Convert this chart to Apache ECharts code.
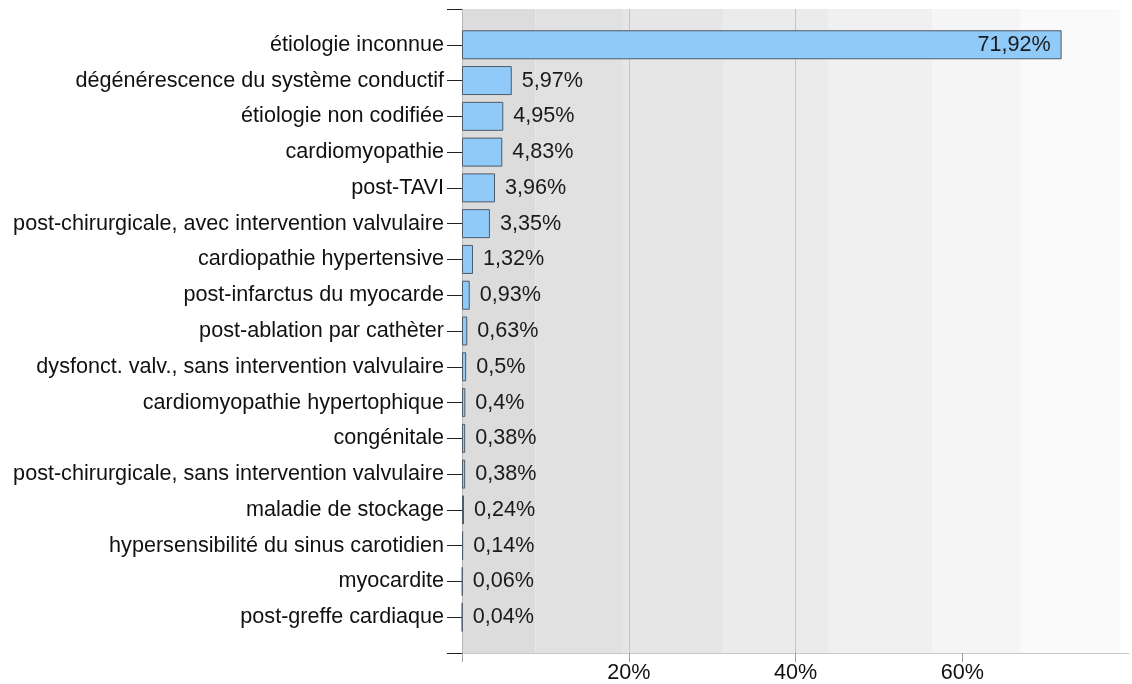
<!DOCTYPE html>
<html>
<head>
<meta charset="utf-8">
<script src="https://cdn.jsdelivr.net/npm/echarts@6/dist/echarts.min.js"></script>
<style>
  html, body { margin: 0; padding: 0; background: #ffffff; overflow: hidden; }
  #chart { width: 1132px; height: 684px; }
</style>
</head>
<body>
<div id="chart"></div>
<script>
const categories = [
  "étiologie inconnue",
  "dégénérescence du système conductif",
  "étiologie non codifiée",
  "cardiomyopathie",
  "post-TAVI",
  "post-chirurgicale, avec intervention valvulaire",
  "cardiopathie hypertensive",
  "post-infarctus du myocarde",
  "post-ablation par cathèter",
  "dysfonct. valv., sans intervention valvulaire",
  "cardiomyopathie hypertophique",
  "congénitale",
  "post-chirurgicale, sans intervention valvulaire",
  "maladie de stockage",
  "hypersensibilité du sinus carotidien",
  "myocardite",
  "post-greffe cardiaque"
];
const values = [71.92, 5.97, 4.95, 4.83, 3.96, 3.35, 1.32, 0.93, 0.63, 0.5, 0.4, 0.38, 0.38, 0.24, 0.14, 0.06, 0.04];
const xTicks = [20, 40, 60];
const xTickMarks = [0, 20, 40, 60];
const bandEdges = [0, 8.8, 19.3, 31.4, 44.0, 56.4, 67.0, 78.9];
const bandColors = ["#dcdcdc", "#e1e1e1", "#e6e6e6", "#ebebeb", "#f0f0f0", "#f5f5f5", "#fafafa"];

const fmt = v => String(v).replace('.', ',') + '%';
const yCats = [''].concat(categories, ['']);
const barData = [null].concat(values.map((v, i) => i === 0
  ? { value: v, label: { position: 'insideRight', distance: 11 } }
  : { value: v }), [null]);
const bands = bandColors.map((c, i) => [
  { xAxis: bandEdges[i], itemStyle: { color: c } },
  { xAxis: bandEdges[i + 1] }
]);

const FS = 21.6;
const chart = echarts.init(document.getElementById('chart'), null, { renderer: 'canvas', width: 1132, height: 684 });
chart.setOption({
  animation: false,
  backgroundColor: '#ffffff',
  textStyle: { fontFamily: 'Liberation Sans, Arial, sans-serif' },
  grid: { left: 462, width: 671, top: 9, height: 644, containLabel: false },
  xAxis: {
    type: 'value', min: 0, max: 80, interval: 20, z: 2,
    axisLine: { show: true, lineStyle: { color: '#c8c8c8', width: 1 } },
    axisTick: { show: true, length: 9, customValues: xTickMarks, lineStyle: { color: '#a0a0a0' } },
    axisLabel: {
      margin: 9, fontSize: FS, color: '#111',
      formatter: v => (xTicks.indexOf(v) >= 0 ? v + '%' : '')
    },
    splitLine: { show: true, showMinLine: false, showMaxLine: false, lineStyle: { color: '#c4c4c4', width: 1 } }
  },
  yAxis: {
    type: 'category', data: yCats, inverse: true, boundaryGap: false, z: 2,
    axisLine: { show: true, lineStyle: { color: '#b8b8b8' } },
    axisTick: { show: true, length: 15, lineStyle: { color: '#222' } },
    axisLabel: { margin: 18, fontSize: FS, color: '#111', interval: 0 }
  },
  series: [
    {
      type: 'line', data: [], z: 0, silent: true,
      markArea: { silent: true, z: 0, data: bands, itemStyle: { opacity: 1 } }
    },
    {
      type: 'bar', data: barData, barWidth: 29, z: 3,
      itemStyle: { color: '#90caf9', borderColor: '#4e5b68', borderWidth: 1 },
      label: {
        show: true, position: 'right', distance: 10, fontSize: FS, color: '#1a1a1a',
        formatter: p => fmt(p.value)
      }
    }
  ]
});
</script>
</body>
</html>
